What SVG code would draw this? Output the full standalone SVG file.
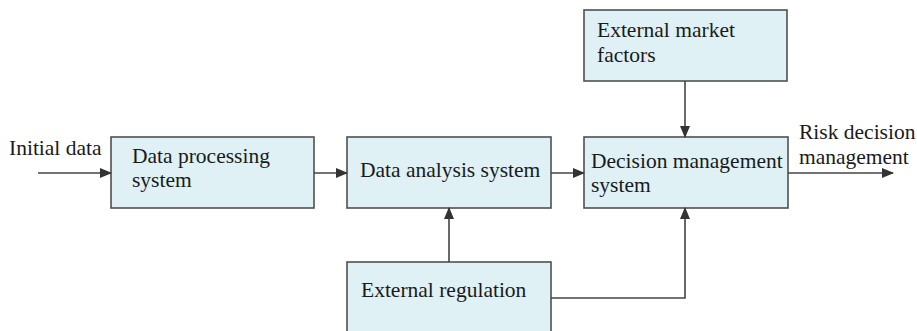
<svg xmlns="http://www.w3.org/2000/svg" width="917" height="331" viewBox="0 0 917 331">
<defs>
<style>
.box{fill:#dff1f4;stroke:#505050;stroke-width:1.6}
.t{font-family:"Liberation Serif","Times New Roman",serif;font-size:21.5px;fill:#1a1a1a}
.c{fill:none;stroke:#444;stroke-width:1.6}
</style>
<marker id="ah" markerWidth="12" markerHeight="10" refX="11" refY="5" orient="auto" markerUnits="userSpaceOnUse">
<path d="M0,0 L12,5 L0,10 Z" fill="#333"/>
</marker>
</defs>
<rect width="917" height="331" fill="#fff"/>
<g id="input-label"><text class="t" x="9" y="155">Initial data</text></g>
<g id="data-processing">
<rect class="box" x="111" y="137" width="203" height="71"/>
<text class="t" x="132" y="163">Data processing</text>
<text class="t" x="132" y="187">system</text>
</g>
<g id="data-analysis">
<rect class="box" x="347" y="137" width="204" height="71"/>
<text class="t" x="360" y="177">Data analysis system</text>
</g>
<g id="decision-management">
<rect class="box" x="584" y="137" width="204" height="71"/>
<text class="t" x="591" y="168">Decision management</text>
<text class="t" x="591" y="192">system</text>
</g>
<g id="external-market">
<rect class="box" x="584" y="10" width="203" height="71"/>
<text class="t" x="597" y="37">External market</text>
<text class="t" x="597" y="62">factors</text>
</g>
<g id="external-regulation">
<rect class="box" x="347" y="262" width="204" height="80"/>
<text class="t" x="361" y="297">External regulation</text>
</g>
<g id="output-label">
<text class="t" x="799" y="139">Risk decision</text>
<text class="t" x="799" y="164">management</text>
</g>
<g id="connectors">
<line class="c" x1="38" y1="173" x2="111" y2="173" marker-end="url(#ah)"/>
<line class="c" x1="314" y1="173" x2="347" y2="173" marker-end="url(#ah)"/>
<line class="c" x1="551" y1="173" x2="584" y2="173" marker-end="url(#ah)"/>
<line class="c" x1="788" y1="173" x2="893" y2="173" marker-end="url(#ah)"/>
<line class="c" x1="685" y1="81" x2="685" y2="137" marker-end="url(#ah)"/>
<line class="c" x1="449" y1="262" x2="449" y2="208" marker-end="url(#ah)"/>
<polyline class="c" points="551,298 685,298 685,208" marker-end="url(#ah)"/>
</g>
</svg>
